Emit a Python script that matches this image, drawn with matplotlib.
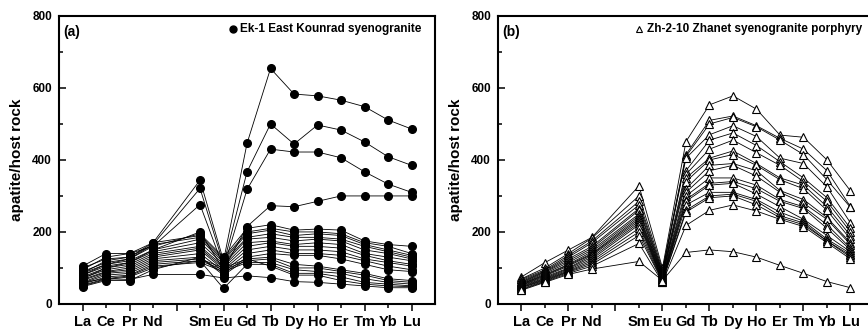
import matplotlib
matplotlib.use("Agg", force=True)
import matplotlib.pyplot as plt
from matplotlib.ticker import MultipleLocator

plt.rcParams["font.family"] = ["Liberation Sans", "DejaVu Sans"]
plt.rcParams["font.weight"] = "bold"

# REE order, Pm is left out but keeps its slot on the axis
elements = ["La", "Ce", "Pr", "Nd", "Pm", "Sm", "Eu", "Gd", "Tb", "Dy", "Ho", "Er", "Tm", "Yb", "Lu"]
measured = ["La", "Ce", "Pr", "Nd", "Sm", "Eu", "Gd", "Tb", "Dy", "Ho", "Er", "Tm", "Yb", "Lu"]

# Ek-1 East Kounrad syenogranite, apatite normalised to host rock
ek1_high = [
    [95, 130, 140, 170, 344, 120, 446, 654, 583, 578, 566, 548, 511, 486],
    [85, 120, 130, 165, 321, 110, 367, 500, 444, 497, 483, 450, 409, 385],
    [80, 110, 125, 160, 276, 100, 318, 430, 422, 422, 406, 367, 333, 310],
    [70, 100, 115, 150, 200, 95, 215, 273, 270, 285, 300, 300, 300, 300],
]
ek1_low = [
    [105, 140, 140, 160, 195, 130, 210, 220, 205, 208, 205, 175, 165, 160],
    [100, 125, 130, 170, 190, 125, 200, 210, 200, 200, 195, 170, 160, 140],
    [90, 115, 125, 165, 185, 120, 195, 205, 190, 195, 190, 165, 150, 135],
    [85, 110, 120, 150, 180, 115, 185, 195, 185, 185, 180, 160, 145, 130],
    [80, 105, 115, 145, 170, 110, 180, 185, 175, 180, 175, 150, 140, 125],
    [75, 100, 110, 140, 160, 105, 170, 175, 165, 170, 165, 140, 130, 120],
    [72, 95, 105, 135, 155, 100, 160, 170, 160, 160, 155, 135, 120, 110],
    [68, 90, 100, 130, 150, 95, 150, 160, 150, 150, 145, 125, 115, 105],
    [65, 88, 95, 125, 140, 90, 140, 150, 140, 140, 135, 120, 105, 95],
    [60, 85, 90, 120, 130, 85, 130, 140, 135, 135, 125, 110, 95, 90],
    [58, 80, 85, 115, 125, 100, 125, 130, 110, 105, 95, 85, 70, 65],
    [55, 75, 80, 110, 120, 95, 120, 125, 100, 100, 90, 80, 65, 60],
    [52, 70, 78, 105, 115, 90, 115, 115, 95, 90, 85, 70, 60, 55],
    [50, 68, 75, 100, 120, 43, 110, 110, 85, 85, 75, 60, 55, 50],
    [48, 65, 65, 95, 130, 80, 125, 105, 80, 80, 65, 55, 50, 48],
    [60, 70, 68, 82, 82, 72, 78, 73, 62, 60, 55, 50, 45, 45],
]

# Zh-2-10 Zhanet syenogranite porphyry
zh210 = [
    [75, 115, 150, 185, 328, 100, 451, 553, 578, 541, 469, 463, 400, 314],
    [70, 100, 140, 183, 300, 95, 415, 510, 522, 495, 460, 430, 370, 270],
    [68, 95, 135, 175, 285, 90, 410, 500, 518, 492, 455, 415, 345, 268],
    [65, 92, 130, 170, 275, 88, 405, 470, 495, 465, 405, 390, 325, 225],
    [62, 90, 125, 160, 265, 85, 370, 455, 475, 440, 395, 350, 295, 210],
    [60, 88, 120, 155, 260, 82, 360, 430, 455, 420, 385, 340, 285, 200],
    [58, 85, 115, 150, 250, 80, 350, 405, 425, 390, 350, 330, 270, 190],
    [56, 82, 110, 145, 245, 78, 340, 400, 415, 385, 345, 320, 260, 180],
    [55, 80, 108, 140, 240, 75, 320, 385, 390, 370, 315, 290, 240, 170],
    [53, 78, 105, 138, 235, 72, 310, 370, 385, 355, 310, 280, 235, 165],
    [52, 75, 100, 135, 230, 70, 300, 350, 350, 330, 290, 270, 220, 155],
    [50, 72, 98, 130, 225, 68, 290, 335, 340, 320, 285, 265, 210, 150],
    [48, 70, 95, 125, 220, 66, 285, 330, 335, 305, 270, 235, 190, 145],
    [46, 68, 92, 120, 210, 65, 275, 310, 310, 290, 255, 230, 180, 140],
    [45, 66, 90, 115, 200, 63, 260, 300, 305, 285, 245, 225, 175, 135],
    [42, 64, 88, 110, 190, 62, 255, 295, 300, 275, 240, 220, 175, 130],
    [40, 62, 85, 105, 168, 60, 218, 260, 275, 258, 235, 215, 170, 125],
    [38, 60, 82, 97, 118, 65, 143, 150, 145, 130, 107, 85, 62, 45],
]

xpos = [elements.index(el) for el in measured]


def style_axes(ax, tag):
    ax.set_xlim(-1, len(elements))
    ax.set_ylim(0, 800)
    ax.yaxis.set_major_locator(MultipleLocator(200))
    ax.yaxis.set_minor_locator(MultipleLocator(100))
    even = [i for i in range(len(elements)) if i % 2 == 0]
    odd = [i for i in range(len(elements)) if i % 2 == 1]
    ax.set_xticks(even, labels=["" if elements[i] == "Pm" else elements[i] for i in even])
    ax.set_xticks(odd, labels=[elements[i] for i in odd], minor=True)
    # x ticks hang below the axis, y ticks point into the plot
    ax.tick_params(axis="x", which="major", direction="out", length=5, width=1.1,
                   labelsize=10.5, pad=3)
    ax.tick_params(axis="x", which="minor", direction="out", length=3, width=1.1,
                   labelsize=10.5, pad=5)
    ax.tick_params(axis="y", which="major", direction="in", length=5, width=1.1,
                   labelsize=8.5, pad=5)
    ax.tick_params(axis="y", which="minor", direction="in", length=3, width=1.1)
    for spine in ax.spines.values():
        spine.set_linewidth(1.5)
    ax.set_ylabel("apatite/host rock", fontsize=11, fontweight="bold", labelpad=6)
    ax.text(0.012, 0.945, tag, transform=ax.transAxes, fontsize=10,
            fontweight="bold", va="center", ha="left")


fig = plt.figure(figsize=(8.68, 3.30), dpi=100)
ax_a = fig.add_axes([0.068, 0.079, 0.4332, 0.8727])
ax_b = fig.add_axes([0.5737, 0.079, 0.4332, 0.8727])

for row in ek1_high + ek1_low:
    ax_a.plot(xpos, row, color="black", linewidth=0.6, marker="o",
              markersize=5.5, markerfacecolor="black", markeredgecolor="black")

for row in zh210:
    ax_b.plot(xpos, row, color="black", linewidth=0.6, marker="^",
              markersize=5.5, markerfacecolor="white", markeredgecolor="black",
              markeredgewidth=0.8)

style_axes(ax_a, "(a)")
style_axes(ax_b, "(b)")

ax_a.plot([0.463], [0.955], transform=ax_a.transAxes, marker="o", markersize=5,
          color="black", clip_on=False)
ax_a.text(0.481, 0.955, "Ek-1 East Kounrad syenogranite", transform=ax_a.transAxes,
          fontsize=8.5, fontweight="bold", va="center", ha="left")

ax_b.plot([0.375], [0.955], transform=ax_b.transAxes, marker="^", markersize=5,
          markerfacecolor="white", markeredgecolor="black", markeredgewidth=0.8,
          clip_on=False)
ax_b.text(0.396, 0.955, "Zh-2-10 Zhanet syenogranite porphyry", transform=ax_b.transAxes,
          fontsize=8.5, fontweight="bold", va="center", ha="left")

fig.savefig("out.png", dpi=100)
